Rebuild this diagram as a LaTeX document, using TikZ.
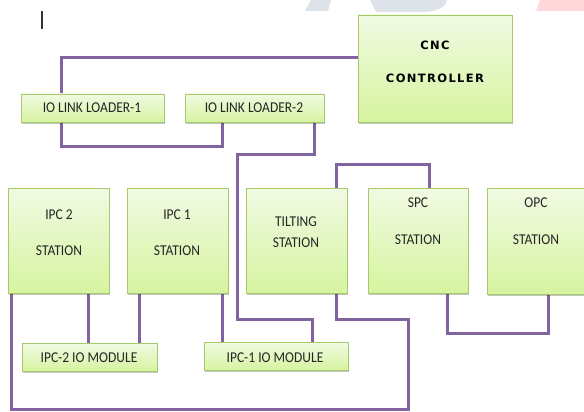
\documentclass[tikz,border=0pt]{standalone}
\usepackage{fontspec}
\setmainfont{Carlito}[FakeStretch=0.9]
\newfontfamily\cncfont{DejaVu Sans}[LetterSpace=12]
\usetikzlibrary{calc,backgrounds,shadows}
\definecolor{wirec}{HTML}{8064A2}
\definecolor{boxline}{HTML}{A6C96A}
\definecolor{boxtop}{HTML}{F1FAE3}
\definecolor{boxbot}{HTML}{D6F4A0}
\definecolor{wmgray}{HTML}{DDE3E8}
\definecolor{wmpink}{HTML}{FFD8DB}
\tikzset{
  blk/.style={draw=boxline, line width=0.8pt, top color=boxtop, bottom color=boxbot,
    inner sep=0pt, rectangle,
    drop shadow={shadow xshift=1.2pt, shadow yshift=-1.8pt, fill=black, opacity=0.22}},
  lbl/.style={font=\fontsize{15}{15}\selectfont, text=black!85, inner sep=0pt},
  cnclbl/.style={font=\cncfont\bfseries\fontsize{11.5}{11.5}\selectfont, text=black, inner sep=0pt},
  wire/.style={draw=wirec, line width=3pt}
}
\begin{document}
\begin{tikzpicture}[x=1pt,y=-1pt]
\useasboundingbox (0,0) rectangle (584,412);
\begin{pgfonlayer}{background}
\fill[white] (0,0) rectangle (584,412);
% watermark
\fill[wmgray] (311,0) -- (331,0) -- (328,11) -- (305,11) -- cycle;
\fill[wmgray] (370,0) -- (447,0) .. controls (446,6) and (438,12) .. (424,12) -- (376,12) -- cycle;
\fill[wmpink] (540,0) -- (584,0) -- (584,11) -- (536,11) -- cycle;
\end{pgfonlayer}
% cursor
\draw[line width=1.3pt, black!80] (42,11) -- (42,29);
% boxes
\node[blk, minimum width=154pt, minimum height=107pt] (cnc) at (435,68.5) {};
\node[blk, minimum width=143pt, minimum height=28pt] (ld1) at (92.5,108) {};
\node[blk, minimum width=139pt, minimum height=28pt] (ld2) at (254.5,108) {};
\node[blk, minimum width=101pt, minimum height=105pt] (ipc2) at (58.5,240.5) {};
\node[blk, minimum width=101pt, minimum height=105pt] (ipc1) at (177.5,240.5) {};
\node[blk, minimum width=101pt, minimum height=105pt] (tilt) at (296.5,240.5) {};
\node[blk, minimum width=100pt, minimum height=105pt] (spc) at (418,240.5) {};
\node[blk, minimum width=103pt, minimum height=106pt] (opc) at (538.5,241) {};
\node[blk, minimum width=135pt, minimum height=28pt] (io2) at (89.5,357) {};
\node[blk, minimum width=144pt, minimum height=28pt] (io1) at (276,356) {};
% texts
\node[cnclbl] (tcnc1) at (435,45) {CNC};
\node[cnclbl] (tcnc2) at (435,78) {CONTROLLER};
\node[lbl] (tld1) at (92,108) {IO LINK LOADER-1};
\node[lbl] (tld2) at (254,108) {IO LINK LOADER-2};
\node[lbl] (tipc2a) at (59,215) {IPC 2};
\node[lbl] (tipc2b) at (59,251) {STATION};
\node[lbl] (tipc1a) at (177,215) {IPC 1};
\node[lbl] (tipc1b) at (177,251) {STATION};
\node[lbl] (ttilta) at (296,222) {TILTING};
\node[lbl] (ttiltb) at (296,243) {STATION};
\node[lbl] (tspca) at (418,203) {SPC};
\node[lbl] (tspcb) at (418,240) {STATION};
\node[lbl] (topca) at (536,203) {OPC};
\node[lbl] (topcb) at (536,240) {STATION};
\node[lbl] (tio2) at (89,358) {IPC-2 IO MODULE};
\node[lbl] (tio1) at (275,358) {IPC-1 IO MODULE};
% wires
\begin{pgfonlayer}{background}
\draw[wire] ([xshift=41pt]ld1.north west) |- ([yshift=-43pt]cnc.north west);
\draw[wire] ([xshift=41pt]ld1.south west) -- ++(0,24) -| ([xshift=38pt]ld2.south west);
\draw[wire] ([xshift=-10pt]ld2.south east) -- ++(0,32) -- ++(-77,0) -- ++(0,165) -| ([xshift=109pt]io1.north west);
\draw[wire] ([xshift=91pt]tilt.north west) -- ++(0,-23) -| ([xshift=62pt]spc.north west);
\draw[wire] ([xshift=80pt]spc.south west) -- ++(0,40) -| ([xshift=62pt]opc.south west);
\draw[wire] ([xshift=4pt]ipc2.south west) -- ++(0,116) -- ++(397,0) -- ++(0,-90) -| ([xshift=91pt]tilt.south west);
\draw[wire] ([xshift=81pt]ipc2.south west) -- ++(0,50);
\draw[wire] ([xshift=13pt]ipc1.south west) -- ++(0,50);
\draw[wire] ([xshift=96pt]ipc1.south west) -- ++(0,49);
\end{pgfonlayer}
\end{tikzpicture}
\end{document}
